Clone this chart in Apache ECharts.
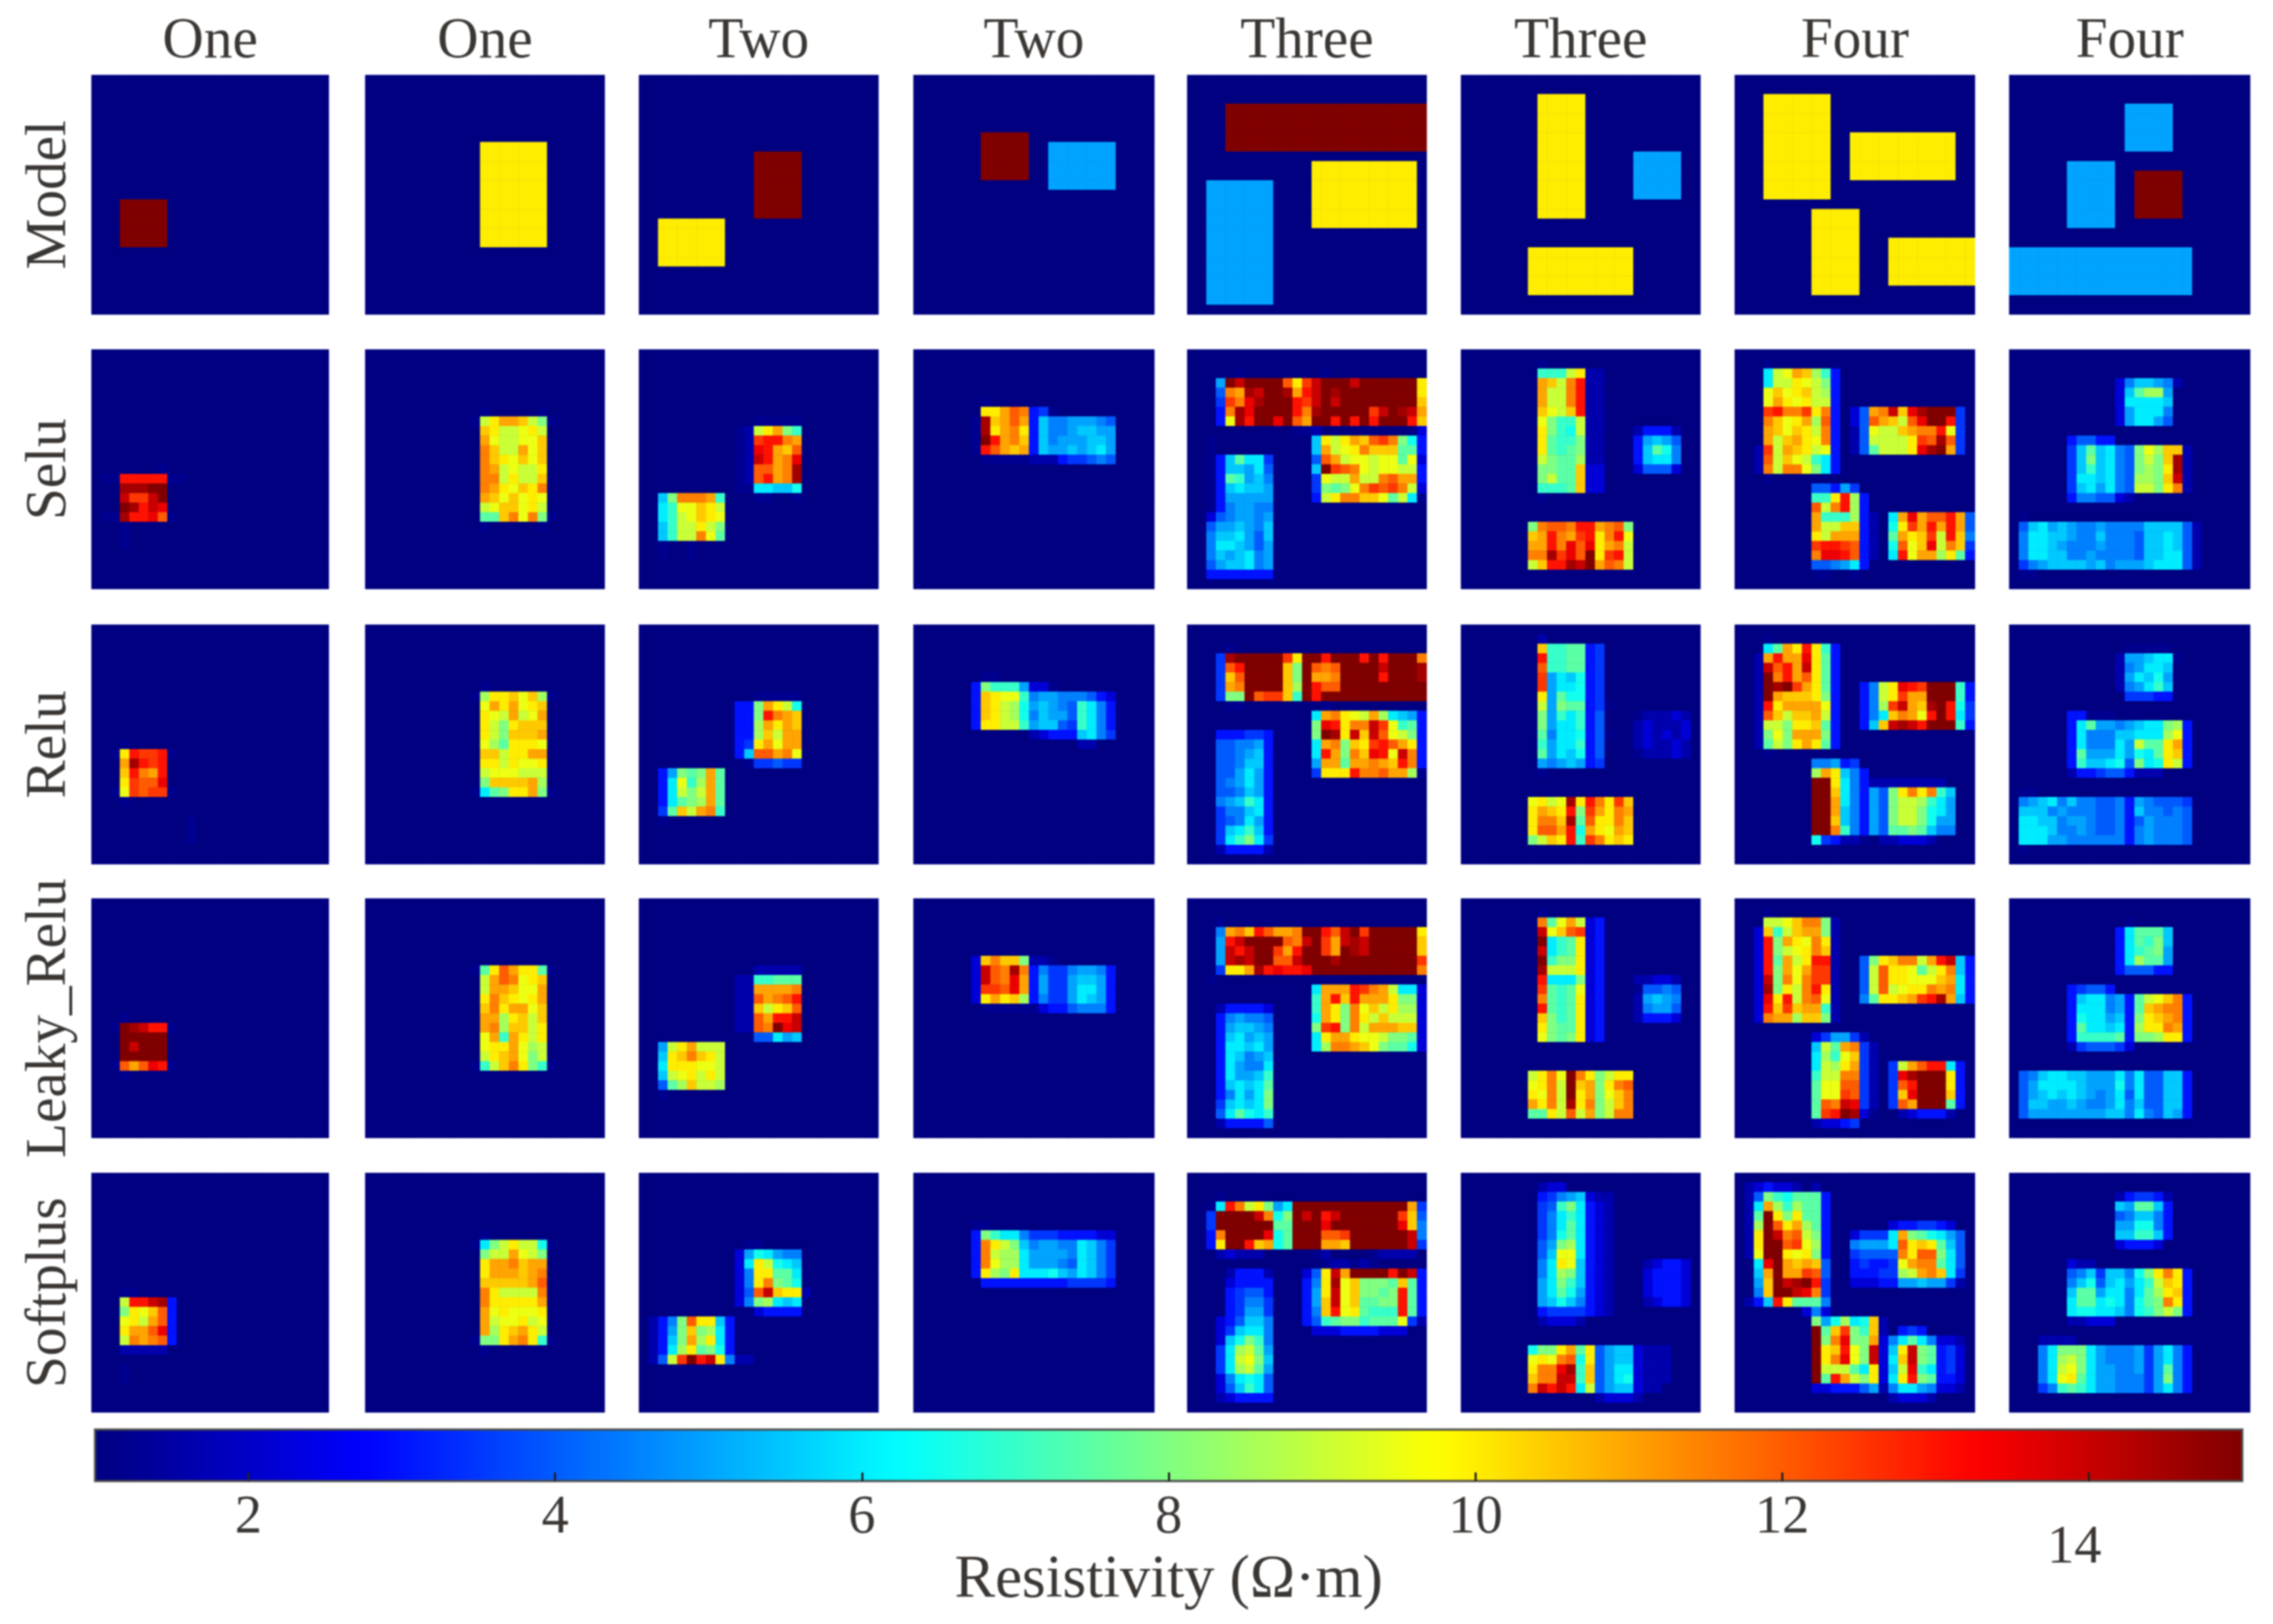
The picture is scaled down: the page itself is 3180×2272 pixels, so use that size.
<!DOCTYPE html>
<html><head><meta charset="utf-8"><style>html,body{margin:0;padding:0;background:#fff}#c{width:3180px;height:2272px;filter:blur(0.8px)}</style>
<script src="https://cdn.jsdelivr.net/npm/echarts@6/dist/echarts.min.js"></script></head><body><div id="c"></div>
<script>
// Cell readings: each panel maps row -> "col:cells"; each letter is one resistivity level from levelValues.
const levelKeys='.bcdefghijklmnopqrstuvwxyzABC';
const levelValues=[1,1.2,1.6,2.2,3,3.5,4,4.5,5,5.5,6,6.5,7,7.5,8,8.5,9,9.5,10,10.5,11,11.5,12,12.5,13,13.5,14,14.5,15];
const columnTitles=['One','One','Two','Two','Three','Three','Four','Four'];
const rowLabels=['Model','Selu','Relu','Leaky_Relu','Softplus'];
const colorbarTicks=[2,4,6,8,10,12,14];
const colorbarTitle='Resistivity (Ω·m)';
const valueMin=1,valueMax=15;

const model=[
{'13-17':'3:CCCCC'},
{'7-17':'12:sssssss'},
{'8-14':'12:CCCCC','15-19':'2:sssssss'},
{'6':'7:CCCCC','7-10':'7:CCCCC 14:iiiiiii','11':'14:iiiiiii'},
{'3-7':'4:CCCCCCCCCCCCCCCCCCCCC','9-10':'13:sssssssssss','11-15':'2:iiiiiii 13:sssssssssss','16-23':'2:iiiiiii'},
{'2-7':'8:sssss','8-12':'8:sssss 18:iiiii','13-14':'8:sssss','18-22':'7:sssssssssss'},
{'2-5':'3:sssssss','6-10':'3:sssssss 12:sssssssssss','11-12':'3:sssssss','14-16':'8:sssss','17-21':'8:sssss 16:sssssssss','22':'8:sssss'},
{'3-7':'12:iiiii','9':'6:iiiii','10-14':'6:iiiii 13:CCCCC','15':'6:iiiii','18-22':'0:iiiiiiiiiiiiiiiiiii'}
];

const selu=[
{12:'7:b',13:'1:bbyyyyybb',14:'3:BBBCC',15:'3:AxxAC',16:'3:CByAz',17:'1:bbByyzwb','18-20':'3:b'},
{6:'12:b 18:b',7:'11:bqsuutqob',8:'12:tsqqrsq',9:'12:urqqrrt',10:'12:vtqqurt',11:'12:vtsrtrt',12:'12:vuqrqqs',13:'12:vvqsqqt',14:'12:vusrtsv',15:'12:utrtrsr',16:'12:qrttrsq',17:'12:nntvrvob',18:'12:b 18:b'},
{7:'12:bbbbb',8:'10:bcqsuom',9:'10:bcxyyvu',10:'10:bczyutw',11:'10:bcAyuvz',12:'10:bcwwuvB',13:'10:bcwyuvB',14:'10:bbkkjjl',15:'2:jovvvum 12:bb 16:b',16:'2:kmrrtsq',17:'2:kmqrtsr',18:'2:jmqqsqo',19:'2:jmqqvrn','20-21':'2:b 5:b'},
{5:'7:b',6:'7:ssuwvefb',7:'6:bBtuwuejhhiiihg',8:'6:bBsuvsejhhijjii',9:'6:bCyuvtejhiiijji',10:'6:bywutuejiijijki',11:'7:bbbbbccceffghg'},
{2:'5:b 14:b',3:'3:iCACCCCwsxACCCACCCCCCs',4:'3:gvuBACCBuyACBCCCCCCCCs',5:'3:fxvzBCCCyxACACCCCCCCCt',6:'3:evBzCCCCyvBCCCCCxACBAu',7:'3:erByCCzCwuCCyCyCyCCCyt',8:'11:bbc 24:d',9:'2:b 13:jsqsutwxvole',10:'2:b 13:juqrsvtttnne',11:'2:bejnkkf 13:gwuqrrqrrnrd',12:'2:bejjikg 13:jCxwvrqrrqqe',13:'2:benmijh 13:frqquqqvwuue',14:'2:bejkjji 13:fonorvxwxvqd',15:'2:beiiiii 13:eqsvvttrnqkb',16:'2:behiihh',17:'2:dghiihi',18:'2:giijihj',19:'2:hjjkigj',20:'2:hkkjigi',21:'2:hjijkhi',22:'2:gijjkhi',23:'2:eeeeeee'},
{1:'8:b',2:'8:mmmqscc',3:'8:utqvycc',4:'8:uqqvycc',5:'8:uqqvycc',6:'8:trqtycc',7:'8:rommqcc',8:'8:somlqcc 18:ceeec',9:'8:snmmocc 18:eijig',10:'8:snmnocc 18:ejnlh',11:'8:qonnpcc 18:ejkkh',12:'8:oonntdd 18:dgggd',13:'8:oqnntdd',14:'8:mmmntdd',15:'8:b',18:'7:ovwwvyyuvwo',19:'7:tuyvuxysvyr',20:'7:uuyvzwzsuvq',21:'7:vvBxzwCsxyq',22:'7:qtyyBACuwvq'},
{1:'3:b',2:'3:kqrutpme',3:'3:kqqsrqoe',4:'3:rtrstqpe',5:'3:rusrsqqe',6:'3:xyvvxsve 12:dguvAtzBCCCf',7:'3:vtrsupwe 12:dgwutqwzCCyf',8:'3:utrtsqve 12:cgrqqtuvvyrf',9:'3:uqtusrve 12:cgqqqqsxwBwf',10:'2:cxqutsqre 12:cgnqqqszBCuf',11:'2:cwqtrqmke',12:'2:cvqvvroke',13:'3:b',14:'8:ggeif',15:'8:mmsype',16:'8:wqvype',17:'8:ummmpec 16:kuzuwwyug',18:'8:uqqttec 16:lsxuyuyug',19:'8:squuuec 16:nustxqyth',20:'8:xyyxwec 16:lwrtzqvtf',21:'8:vzzywec 16:kyruupsne',22:'8:gghike',23:'8:bb 12:b'},
{3:'11:dhjjihc',4:'11:djnppi',5:'11:dkkkkj',6:'11:dikkkh',7:'11:dikkig',9:'6:eggee',10:'6:fjnjkhgorpttc',11:'6:fjojkhgoqotBc',12:'6:fjmjkhgoposBc',13:'6:fkkjkhgppotAc',14:'6:fjkikhgqqosvc',15:'6:ehhggdc',17:'1:b',18:'1:gjkijihhihhhhjjjjgc',19:'1:hkkjjihhjhhhgjjkjgc',20:'1:hkkjihhhihhhgjjkjgc',21:'1:hkkjjhhihhhhgjjkkgc',22:'1:fhijjjjijhiiijkkkgc',23:'1:bb'}
];

const relu=[
{12:'3:b',13:'2:bsyxxyb',14:'3:uByxy',15:'3:tyvuy',16:'3:sxwwz',17:'2:brxwxxb',18:'3:b','20-22':'10:b'},
{6:'12:b',7:'11:bpsstrtpb',8:'12:rusurst',9:'12:srquqru',10:'12:sqosttt',11:'12:sqotttu',12:'12:rpnsssr',13:'12:ttqssuu',14:'12:ssqsrrs',15:'12:qrrrqqq',16:'12:ottttup',17:'11:bknossuob'},
{7:'12:bbbbb',8:'10:eeousql',9:'10:eeoyvut',10:'10:eepusut',11:'10:eeptquu',12:'10:efsuruu',13:'10:ejwwuvr',14:'11:bffgff',15:'2:eionoun',16:'2:ekrmpun',17:'2:ekqoqun',18:'2:eknopun',19:'2:fntquvm',20:'2:b'},
{5:'7:bb',6:'6:eommmiddb',7:'6:etsrrmhiihhhged',8:'6:etsqplijihgmkhe',9:'6:etsqplhjiigmkhe',10:'6:essqqmijjgfmkhe',11:'12:cdeeejkhf',12:'17:cc'},
{2:'4:b',3:'3:fBCCCCCxsCCyCCCyCyCCCv',4:'3:fwyCCCCtoCwvwCCCCACCCB',5:'3:ftwCCCCtoCuuvCCCCyCCCB',6:'3:fuvCCCCtpCywwCCCCCCCCC',7:'3:fooCwxxtmCyCCCCCCCCCCC',8:'4:bb 14:b',9:'13:kuvsrqupkjie',10:'13:ozysvvAxrmne',11:'3:eeeffe 13:oCBsAtAwrqoe',12:'3:gghhie 13:kuvotsxywuse',13:'3:gghije 13:kyuovtzyrAve',14:'3:gghjje 13:iuunuuvutyve',15:'3:ggikie 13:fsssyvvwuupb',16:'3:ghikie',17:'3:gghjie',18:'3:hijmke',19:'3:fhhjke',20:'3:fghkie',21:'3:fjkmje',22:'3:fkmokf',23:'3:ceeeec'},
{1:'8:c',2:'8:tmmnnef',3:'8:ymmnnef',4:'8:wmmnnef',5:'8:xikjlef',6:'8:xikklef',7:'8:sinllef',8:'8:qionnefb',9:'8:oimkmeg 18:bcccdc',10:'8:oikkmeg 18:cdcccd',11:'8:nhkklegb 18:cdcdcd',12:'8:mikkmeg 18:cdccdc',13:'8:nikjleg 18:bcccdc',14:'8:ihijief',15:'8:b',18:'7:rsqrBsyvsxt',19:'7:sutsyoxusvu',20:'7:svvtBnwssvt',21:'7:swwuylusrut',22:'7:oqtsymxvsts'},
{1:'3:b',2:'3:knusysme',3:'2:cuyuuzsne',4:'2:cAwyuAsne',5:'2:cCvyuwsne',6:'2:cCBCxusne 13:ehqszyxCCCme',7:'2:cCutttsoe 13:ehqsxuuCCCme',8:'2:cysuuuure 13:ehpxAutBCylf',9:'2:cwtqttuqe 13:ehktvuryCykf',10:'2:cqqosstne 13:ejtABAyCCCme',11:'2:corouuuoe',12:'2:cnqosusne',13:'3:b',14:'8:hhief',15:'8:pusjhe',16:'8:CCskhe 14:cccccccc',17:'8:CCtkhe 14:igosvsvmj',18:'8:CCukhe 14:igoqqpmki',19:'8:CCujhe 14:igoqqolki',20:'8:CCtjhe 14:igoqqolii',21:'8:CCvmhe 14:ignnonjhh',22:'8:lfeccb 15:ccdddc'},
{2:'12:bbbbb',3:'11:ciijkkb',4:'11:chikkj',5:'11:cikjli',6:'11:chikmj',7:'12:fffee',9:'6:eebbb',10:'6:ekniihijkkope',11:'6:ekhhhjjkkkpre',12:'6:ekhhhkiqnnsue',13:'6:eniiikilknste',14:'6:emjjklgoklsqe',15:'6:ceefggeccc',17:'1:bb',18:'1:hijkhjhhggheihgggf',19:'1:jjjhihhhgghejhhghg',20:'1:kkjjhiihgghegihhhg',21:'1:kkkjhhihgghehihhhg',22:'1:kkkiihhhhhhehihhhg',23:'1:b'}
];

const leaky=[
{12:'3:b',13:'2:bCBAyyb',14:'3:CCCCC',15:'3:CACCC',16:'3:CCCCC',17:'2:bwuwzyb',18:'3:b'},
{7:'11:bnswussnb',8:'12:quwvrst',9:'12:quutrru',10:'12:svtsrsu',11:'12:tvsuurt',12:'12:uupstqt',13:'12:uvpttqs',14:'12:rumusqs',15:'12:rssurpq',16:'12:qsturoq',17:'11:bmqtvsomb'},
{7:'12:ccccc',8:'10:ccmmnnn',9:'10:ccuuuuv',10:'10:ccwuvwy',11:'10:cctqstw',12:'10:ccwuyyA',13:'10:ccwvCzA',14:'12:ggkij',15:'2:iqsuqqq',16:'2:jstvtsq',17:'2:ksssrrq',18:'2:jqrsqsq',19:'2:gnptqqp',20:'2:b'},
{6:'6:dtvttoccb',7:'6:dAwvBvehffhiihe',8:'6:dAwvzueiffijjie',9:'6:dxxwzueiffikkie',10:'6:dsustpehffikjie',11:'7:bbbbbbdeeghhhe'},
{2:'3:b',3:'3:huvtywuuvCCywACxCCCCCs',4:'3:iyACCCCwvACxuABACCCCCt',5:'3:iAyACCxuyCCxuCBACCCCCt',6:'3:iABACCwwACCCBCCCCCCCCx',7:'3:fssuByzyyzCCCCCCCCCCCv',8:'2:b',9:'13:kuuuyxvuqkkd',10:'13:muytyuuusood',11:'3:ceeeed 13:musovrtqsppd',12:'3:ehihhg 13:lusovsqtqqqd',13:'3:eijjih 13:oxyovquuuttd',14:'3:ejkiji 13:ksuusrrqoond',15:'3:ekkjki 13:kpvvutronnld',16:'3:ekjhij',17:'3:ekihhk',18:'3:ekiijm',19:'3:ejkjkn',20:'3:ehkiko',21:'3:fjkjko',22:'3:gknlkm',23:'3:ceeeeg'},
{1:'8:b',2:'8:vnruqde',3:'8:Artwxde',4:'8:Ckmnsde',5:'8:Akmnsde',6:'8:Cmoosde',7:'8:Bqqqsde',8:'8:ykkkode 18:ccddc',9:'8:xnmnrde 18:bgghg',10:'8:vnmnsde 18:cijih',11:'8:ynmnsde 18:chiig',12:'8:tomnsde 18:ceeed',13:'8:sonnsde',14:'8:ronosde',18:'7:qsvrCvsoqss',19:'7:rsvqCtuosvw',20:'7:srvqCsuortv',21:'7:usvqBsvoqtv',22:'7:nnsqwquoqvv'},
{1:'3:b',2:'3:qqrtvvoc',3:'2:dtmqtuuoc',4:'2:dyousrvsc',5:'2:dyoqrsvtc',6:'2:dynuqsyyc 13:gostvvquyAje',7:'2:dyouruxxc 13:gqwssrnqsvje',8:'2:dAovrvxxc 13:gqwssrrrtuke',9:'2:dBosqvysc 13:gqwqrssvuvke',10:'2:dzsyqvwrc 13:hnsstuxyBuje',11:'2:dytxtuumc',12:'2:dvuupttoc',14:'8:dfiifc',15:'8:jqnuvfc',16:'8:kpmrtfc',17:'8:kqpsufc 16:fquwyyke',18:'8:mqqvvfc 16:fzBCCCse',19:'8:nrrwwfc 16:fwyCCCse',20:'8:nrrxwfc 16:ftzCCCte',21:'8:nwvAzfc 16:fwuCCCne',22:'8:nxyCBdb 17:cdeeec',23:'8:cddef'},
{2:'12:b',3:'11:eknnnj',4:'11:eknmoj',5:'11:ekmnoi',6:'11:ekpnni',7:'11:egggee',9:'6:efgge',10:'6:ejkkhienqrtve',11:'6:ekkkhientuvve',12:'6:elkkijeostuve',13:'6:enkkjkepssvue',14:'6:emmmmneoopsse',15:'6:cfgggfd',18:'1:ghjkkjjiiikhkggjje',19:'1:gikkkkjiiilhkggjje',20:'1:gijkjkjihikgkggjje',21:'1:gjjiijihhikhjggjje',22:'1:giiiiiiiijjhkhgjie'}
];

const softplus=[
{12:'3:bb',13:'3:qyyABe',14:'3:osrtwe',15:'3:rsquwe',16:'3:suuwze',17:'3:qvuvwe',18:'3:ccccc','20-21':'3:b'},
{6:'12:b',7:'11:bkoqsqqlb',8:'12:oqqurqo',9:'12:suuvtuu',10:'12:suuutuv',11:'12:tttttuw',12:'12:vsqqqqv',13:'12:vsssssu',14:'12:ursrrrs',15:'12:uqrrsqr',16:'12:upstusq',17:'11:boosuvsmb',18:'12:b'},
{7:'11:bb',8:'10:dilkihh',9:'10:dksqlkj',10:'10:dhssnnk',11:'10:dhsvonl',12:'10:dgwAtssc',13:'10:dhopkjk',14:'12:deeee',15:'1:cehowssje',16:'1:ceiotopke',17:'1:cejoupske',18:'1:cekpsnole',19:'1:cgqxCyAshcc'},
{5:'6:bb',6:'6:eomkkhfffeeeedd',7:'6:evsqojhiihhkjhf',8:'6:evqppkiiiihkjhf',9:'6:evrppkiiihgkjhf',10:'6:esposkkkljikjhf',11:'7:eeeeeeeeeffffe'},
{2:'3:b',3:'2:bkyvqsoikCCCCCCCCCCCCuf',4:'2:fCCCCAvloCACyACCCCCCxtg',5:'2:fCCCCCCnnCCCzCCCCCCCzth',6:'2:evCCCCzlnCCCwwxCCCCCCAh',7:'2:esCCytulnCCCuutCCCCCCAf',8:'3:cdccc 13:bc 19:bcccc',9:'14:bccbcb',10:'4:ceeec 12:dgsAuCCCCyCAe',11:'4:deeee 12:ehsBrtooontne',12:'4:efgge 12:eisArtoonoyne',13:'4:efhhf 12:eitArtnnooyne',14:'4:efiif 12:ehtyrsnmmmyne',15:'3:degjjh 12:egmnoomnnnrfc',16:'3:dfjkkh 13:dddeeeeddd',17:'3:djlomh',18:'3:fkpqni',19:'3:fkqroj',20:'3:fkpqni',21:'3:dhklkg',22:'3:dgjmkg',23:'3:cdeeee'},
{1:'8:cdd',2:'8:efhijdcc',3:'8:fgmokedc',4:'8:fhkmkedc',5:'8:fhknkedc',6:'8:fhlnkedc',7:'8:giopkedc',8:'8:gjrrkedc',9:'8:hksrjedc 19:cdeed',10:'8:hkpojedc 19:deeed',11:'8:ikomjedc 19:deeed',12:'8:iknliedc 19:deeed',13:'8:ijljhedc 19:cdeed',14:'8:effffedc',15:'8:cdddc',18:'7:loosunsgijjdccc',19:'7:rsrvwlsgijjdccc',20:'7:svvzBmtgikkdccc',21:'7:tvvAAmtgikldccc',22:'7:vAyAykqgijjdcc',23:'14:cdddc'},
{1:'1:cdeddc 8:c',2:'1:cgomlnnne',3:'1:ckupmpnne',4:'1:cnCsosnne',5:'1:cpCwsupne 16:deeffed',6:'1:csCAvwqoe 12:dfffkuonlkig',7:'1:csCCwxrpe 12:hiiikwstsnjg',8:'1:crCCsrsoe 12:fggggvswwokg',9:'2:kzCututg 12:efeefruvvnkg',10:'2:juCuuxwg 12:eeeffpquvtkf',11:'2:itCABCyf 12:dddeeiijiifc',12:'2:htCCAzvf',13:'1:cejysnnnh',14:'7:dhd',15:'8:oilpkltc',16:'8:Cntxomtc 17:efe',17:'8:Covzooud 16:hknkhddc',18:'8:CstyroAd 16:jsAonefd',19:'8:CsvzroAd 16:ktAonefd',20:'8:Cqqqnksd 16:jqzmkefd',21:'8:Cnyuqosd 16:ksyoneed',22:'8:ddeeegic 16:hkkihddc',23:'16:cdddc'},
{2:'11:ceffec',3:'11:jinnje',4:'11:ghjjhe',5:'11:iillhe',6:'11:jjmmje',7:'11:deeed',9:'6:dcc',10:'6:ghjfjjhlosvse',11:'6:hjlgjkikmqtse',12:'6:jnnikkhknpste',13:'6:knnklkhlnovse',14:'6:kllkkjhlmoqoe',15:'6:ccddd',17:'3:cccc',18:'3:hkoookihhhifikhe',19:'3:hkpqokihhhifikhe',20:'3:hkqrokiihhifinhe',21:'3:hkrsnkiihhhfiohe',22:'3:fhmnmkiihhhfikhe'}
];

const panels=[model,selu,relu,leaky,softplus];
const jet=['#000080','#0000ff','#0080ff','#00ffff','#80ff80','#ffff00','#ff8000','#ff0000','#800000'];

const N=25, font='"Liberation Serif"', ink='#3a3633';
const colX=[128,511,894,1278,1661,2044,2427,2811], colW=[332,335,335,337,335,335,336,337];
const rowY=[105,489,874,1257,1641], rowH=335;
const cats=[...Array(N).keys()].map(String);

function decode(p){
  const g=Array.from({length:N},()=>Array(N).fill(valueMin));
  for(const k in p){
    const [a,b]=k.split('-').map(Number);
    for(let r=a;r<=(b===undefined?a:b);r++){
      for(const t of p[k].split(' ')){
        const [c,s]=t.split(':');
        [...s].forEach((ch,i)=>{const x=+c+i; if(x<N) g[r][x]=levelValues[levelKeys.indexOf(ch)];});
      }
    }
  }
  const d=[];
  g.forEach((row,r)=>row.forEach((v,c)=>d.push([c,r,v])));
  return d;
}

const grid=[],xAxis=[],yAxis=[],series=[];
const nameStyle={fontFamily:font,fontSize:80,color:ink};
panels.forEach((rowPanels,r)=>rowPanels.forEach((p,c)=>{
  const i=grid.length;
  grid.push({left:colX[c],top:rowY[r],width:colW[c],height:rowH,show:true,backgroundColor:'#000080',borderWidth:0});
  xAxis.push({gridIndex:i,type:'category',data:cats,position:'top',
    name:r===0?columnTitles[c]:'',nameLocation:'middle',nameGap:6,nameTextStyle:nameStyle,
    axisLine:{show:false},axisTick:{show:false},axisLabel:{show:false},splitLine:{show:false}});
  yAxis.push({gridIndex:i,type:'category',data:cats,inverse:true,
    name:c===0?rowLabels[r]:'',nameLocation:'middle',nameGap:18,nameRotate:90,nameTextStyle:nameStyle,
    axisLine:{show:false},axisTick:{show:false},axisLabel:{show:false},splitLine:{show:false}});
  series.push({type:'heatmap',xAxisIndex:i,yAxisIndex:i,data:decode(p),progressive:0,animation:false,
    itemStyle:{borderWidth:0},emphasis:{disabled:true},silent:true});
}));

// colour bar frame, ticks and labels sit on a value axis over the visualMap ramp
const cb=grid.length;
grid.push({left:133,top:2000,width:3004,height:72,show:true,backgroundColor:'transparent',borderColor:'#4a4a4a',borderWidth:3,z:10});
xAxis.push({gridIndex:cb,type:'value',min:valueMin,max:valueMax,position:'bottom',z:10,
  name:colorbarTitle,nameLocation:'middle',nameGap:97,nameTextStyle:{fontFamily:font,fontSize:85,color:ink},
  axisLine:{show:false},splitLine:{show:false},
  axisTick:{show:true,inside:true,length:12,lineStyle:{color:'#222',width:3},customValues:colorbarTicks},
  axisLabel:{show:true,margin:14,fontFamily:font,fontSize:76,color:ink,customValues:colorbarTicks.slice(0,6)}});
yAxis.push({gridIndex:cb,type:'value',show:false});

const option={
  backgroundColor:'#fff',animation:false,grid,xAxis,yAxis,series,
  visualMap:{type:'continuous',min:valueMin,max:valueMax,dimension:2,seriesIndex:series.map((_,i)=>i),
    orient:'horizontal',left:133,top:2000,itemWidth:72,itemHeight:3004,padding:0,calculable:false,realtime:false,
    text:null,showLabel:false,handleSize:0,inRange:{color:jet},textStyle:{fontSize:1,color:'transparent'}},
  graphic:[{type:'text',left:2864,top:2128,z:20,
    style:{text:String(colorbarTicks[6]),fontFamily:font,fontSize:76,fill:ink}}]
};
const chart=echarts.init(document.getElementById('c'),null,{renderer:'canvas'});
chart.setOption(option);
</script></body></html>
